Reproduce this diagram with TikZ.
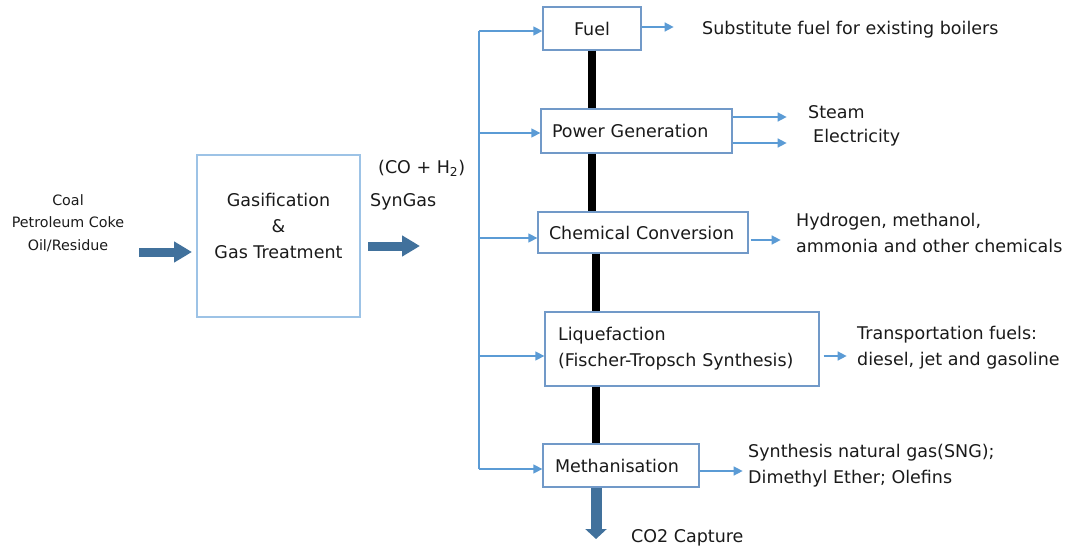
\documentclass[tikz,border=0pt]{standalone}
\usepackage{fontspec}
\setmainfont{DejaVu Sans}
\usetikzlibrary{arrows.meta}
\definecolor{thinblue}{HTML}{5B9BD5}
\definecolor{boxblue}{HTML}{7199C8}
\definecolor{lightbox}{HTML}{9DC3E6}
\definecolor{blockblue}{HTML}{41719C}
\definecolor{ink}{HTML}{1A1A1A}
\tikzset{
  lbl/.style={font=\fontsize{17.5}{26}\selectfont, text=ink, inner sep=0pt},
  feedlbl/.style={font=\fontsize{14.3}{22.5}\selectfont, text=ink, inner sep=0pt, align=center},
  procbox/.style={draw=boxblue, line width=1.3pt, fill=white, inner sep=0pt,
    font=\fontsize{17.5}{26}\selectfont, text=ink},
  gasbox/.style={draw=lightbox, line width=1.3pt, inner sep=0pt,
    minimum width=163pt, minimum height=162pt},
  thinline/.style={draw=thinblue, line width=1.4pt},
  thinarrow/.style={draw=thinblue, line width=1.4pt, -{Triangle[length=9pt,width=9pt]}},
  blockarrow/.style={draw=blockblue, line width=9pt, -{Triangle[length=18pt,width=20pt]}},
  co2arrow/.style={draw=blockblue, line width=11pt, -{Triangle[length=10pt,width=21pt]}},
  spine/.style={draw=black, line width=8pt},
}
\begin{document}
\begin{tikzpicture}[x=1pt,y=-1pt]
\useasboundingbox (0,0) rectangle (1065,551);

% feed and gasifier
\node[feedlbl] (feed) at (68,223) {Coal\\Petroleum Coke\\Oil/Residue};
\node[gasbox] (gas) at (278.5,236) {};
\node[lbl, align=center] (gastxt) at (278.5,226) {Gasification\\\&\\Gas Treatment};
\coordinate (inStart) at (139,252);
\coordinate (inEnd) at (192,252);
\draw[blockarrow] (inStart) -- (inEnd);

\node[lbl, anchor=west] (co) at (378,168) {(CO + H\textsubscript{2})};
\node[lbl, anchor=west] (syn) at (370,202) {SynGas};
\coordinate (outStart) at (368,246);
\coordinate (outEnd) at (420,246);
\draw[blockarrow] (outStart) -- (outEnd);

% process boxes
\node[procbox, minimum width=98pt, minimum height=43pt] (fuel) at (592,28.5) {Fuel};
\node[procbox, minimum width=191pt, minimum height=44pt, text width=169pt, align=left] (power) at (636.5,131) {Power Generation};
\node[procbox, minimum width=210pt, minimum height=41pt, text width=188pt, align=left] (chem) at (643,232.5) {Chemical Conversion};
\node[procbox, minimum width=274pt, minimum height=74pt, text width=248pt, align=left] (liq) at (682,349) {Liquefaction\\(Fischer-Tropsch Synthesis)};
\node[procbox, minimum width=156pt, minimum height=43pt, text width=132pt, align=left] (meth) at (621,465.5) {Methanisation};

% black spine
\coordinate (s1) at (592,0);
\coordinate (s2) at (596,0);
\draw[spine] (fuel.south -| s1) -- (power.north -| s1);
\draw[spine] (power.south -| s1) -- (chem.north -| s1);
\draw[spine] (chem.south -| s2) -- (liq.north -| s2);
\draw[spine] (liq.south -| s2) -- (meth.north -| s2);

% distribution trunk
\coordinate (br1) at (479,31);
\coordinate (br2) at (479,133);
\coordinate (br3) at (479,238);
\coordinate (br4) at (479,356);
\coordinate (br5) at (479,469);
\draw[thinline] (br1) -- (br5);
\draw[thinarrow] (br1) -- (fuel.west |- br1);
\draw[thinarrow] (br2) -- (power.west |- br2);
\draw[thinarrow] (br3) -- (chem.west |- br3);
\draw[thinarrow] (br4) -- (liq.west |- br4);
\draw[thinarrow] (br5) -- (meth.west |- br5);

% products
\node[lbl, anchor=west] (pfuel) at (702,30) {Substitute fuel for existing boilers};
\node[lbl, anchor=west] (psteam) at (808,112) {Steam};
\node[lbl, anchor=west] (pelec) at (813,138) {Electricity};
\node[lbl, anchor=west, align=left] (pchem) at (796,233) {Hydrogen, methanol,\\ammonia and other chemicals};
\node[lbl, anchor=west, align=left] (pliq) at (857,348) {Transportation fuels:\\diesel, jet and gasoline};
\node[lbl, anchor=west, align=left] (pmeth) at (748,466) {Synthesis natural gas(SNG);\\Dimethyl Ether; Olefins};
\node[lbl, anchor=west] (pco2) at (631,538) {CO2 Capture};

\draw[thinarrow] ([yshift=1.5pt]fuel.east) -- ++(32,0);
\draw[thinarrow] ([yshift=14pt]power.east) -- ++(54,0);
\draw[thinarrow] ([yshift=-12pt]power.east) -- ++(54,0);
\draw[thinarrow] ([xshift=2pt,yshift=-7.5pt]chem.east) -- ++(30,0);
\draw[thinarrow] ([xshift=4pt,yshift=-7pt]liq.east) -- ++(23,0);
\draw[thinarrow] ([yshift=-5.5pt]meth.east) -- ++(43,0);

\coordinate (co2end) at (596,539);
\draw[co2arrow] (meth.south -| s2) -- (co2end);
\end{tikzpicture}
\end{document}
